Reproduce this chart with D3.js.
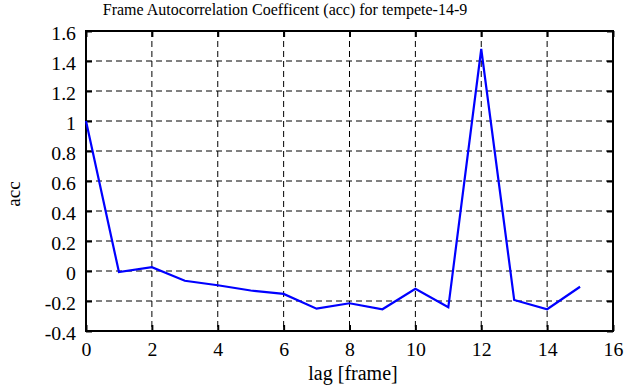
<!DOCTYPE html>
<html>
<head>
<meta charset="utf-8">
<script src="https://cdn.jsdelivr.net/npm/d3@7"></script>
<style>
  body { margin: 0; background: #fff; }
  svg text { font-family: "Liberation Serif", "DejaVu Serif", serif; fill: #000; }
</style>
</head>
<body>
<div id="chart"></div>
<script>
// lag values and autocorrelation
var lags = [0, 1, 2, 3, 4, 5, 6, 7, 8, 9, 10, 11, 12, 13, 14, 15]
var acc = [1.0, -0.007, 0.025, -0.065, -0.095, -0.13, -0.153, -0.251, -0.215, -0.255, -0.118, -0.242, 1.48, -0.193, -0.255, -0.105]

var xTicks = [0, 2, 4, 6, 8, 10, 12, 14, 16]
var yTicks = [-0.4, -0.2, 0, 0.2, 0.4, 0.6, 0.8, 1, 1.2, 1.4, 1.6]

var width = 635
var height = 387
var margin = {left: 86, right: 22, top: 31, bottom: 56}
var plotW = width - margin.left - margin.right
var plotH = height - margin.top - margin.bottom
var serif = "'Liberation Serif', 'Times New Roman', serif"

var svg = d3.select("#chart")
    .append("svg")
    .attr("width", width)
    .attr("height", height)

var x = d3.scaleLinear().domain([0, 16]).range([0, plotW])
var y = d3.scaleLinear().domain([-0.4, 1.6]).range([plotH, 0])

var g = svg.append("g")
    .attr("transform", "translate(" + margin.left + "," + margin.top + ")")

// dashed grid
g.selectAll(".vgrid")
    .data(xTicks.slice(1, -1))
    .enter().append("line")
    .attr("x1", d => x(d)).attr("x2", d => x(d))
    .attr("y1", 0).attr("y2", plotH)
    .attr("stroke", "#000").attr("stroke-width", 1)
    .attr("stroke-dasharray", "6,4")

g.selectAll(".hgrid")
    .data(yTicks.slice(1, -1))
    .enter().append("line")
    .attr("x1", 0).attr("x2", plotW)
    .attr("y1", d => y(d)).attr("y2", d => y(d))
    .attr("stroke", "#000").attr("stroke-width", 1)
    .attr("stroke-dasharray", "6,4")

// axes with inward ticks on all sides
function styleAxis(sel) {
    sel.attr("font-family", serif)
    sel.select(".domain").remove()
    sel.selectAll(".tick line").attr("stroke", "#000").attr("stroke-width", 2)
    // the reference glyphs are a bit wider than Times, so stretch them slightly
    sel.selectAll(".tick text")
        .attr("font-family", serif)
        .style("font-size", "18px")
        .attr("transform", function() {
            var t = d3.select(this)
            return "translate(" + (+t.attr("x") || 0) + "," + (+t.attr("y") || 0) + ") scale(1.1,1)"
        })
        .attr("x", 0).attr("y", 0)
}

g.append("g")
    .attr("transform", "translate(0," + plotH + ")")
    .call(d3.axisBottom(x).tickValues(xTicks).tickSizeInner(-6).tickPadding(12)
        .tickFormat(d => String(d)))
    .call(styleAxis)

g.append("g")
    .call(d3.axisTop(x).tickValues(xTicks).tickSizeInner(-6).tickFormat(""))
    .call(styleAxis)

var yAxis = g.append("g")
    .call(d3.axisLeft(y).tickValues(yTicks).tickSizeInner(-6).tickPadding(10)
        .tickFormat(d => String(+d.toFixed(1))))
    .call(styleAxis)
yAxis.selectAll(".tick text").attr("dy", "0.45em")

g.append("g")
    .attr("transform", "translate(" + plotW + ",0)")
    .call(d3.axisRight(y).tickValues(yTicks).tickSizeInner(-6).tickFormat(""))
    .call(styleAxis)

// frame
g.append("rect")
    .attr("width", plotW).attr("height", plotH)
    .attr("fill", "none").attr("stroke", "#000").attr("stroke-width", 2)

// data line
var line = d3.line()
    .x((d, i) => x(lags[i]))
    .y(d => y(d))

g.append("path")
    .datum(acc)
    .attr("d", line)
    .attr("fill", "none")
    .attr("stroke", "#0000ff")
    .attr("stroke-width", 2.2)

// titles
svg.append("text")
    .attr("x", 285).attr("y", 15)
    .attr("text-anchor", "middle")
    .attr("font-family", serif)
    .style("font-size", "16px")
    .text("Frame Autocorrelation Coefficent (acc) for tempete-14-9")

svg.append("text")
    .attr("x", 353).attr("y", 380)
    .attr("text-anchor", "middle")
    .attr("font-family", serif)
    .style("font-size", "20px")
    .text("lag [frame]")

svg.append("text")
    .attr("transform", "translate(20,194) rotate(-90)")
    .attr("text-anchor", "middle")
    .attr("font-family", serif)
    .style("font-size", "19px")
    .text("acc")
</script>
</body>
</html>
